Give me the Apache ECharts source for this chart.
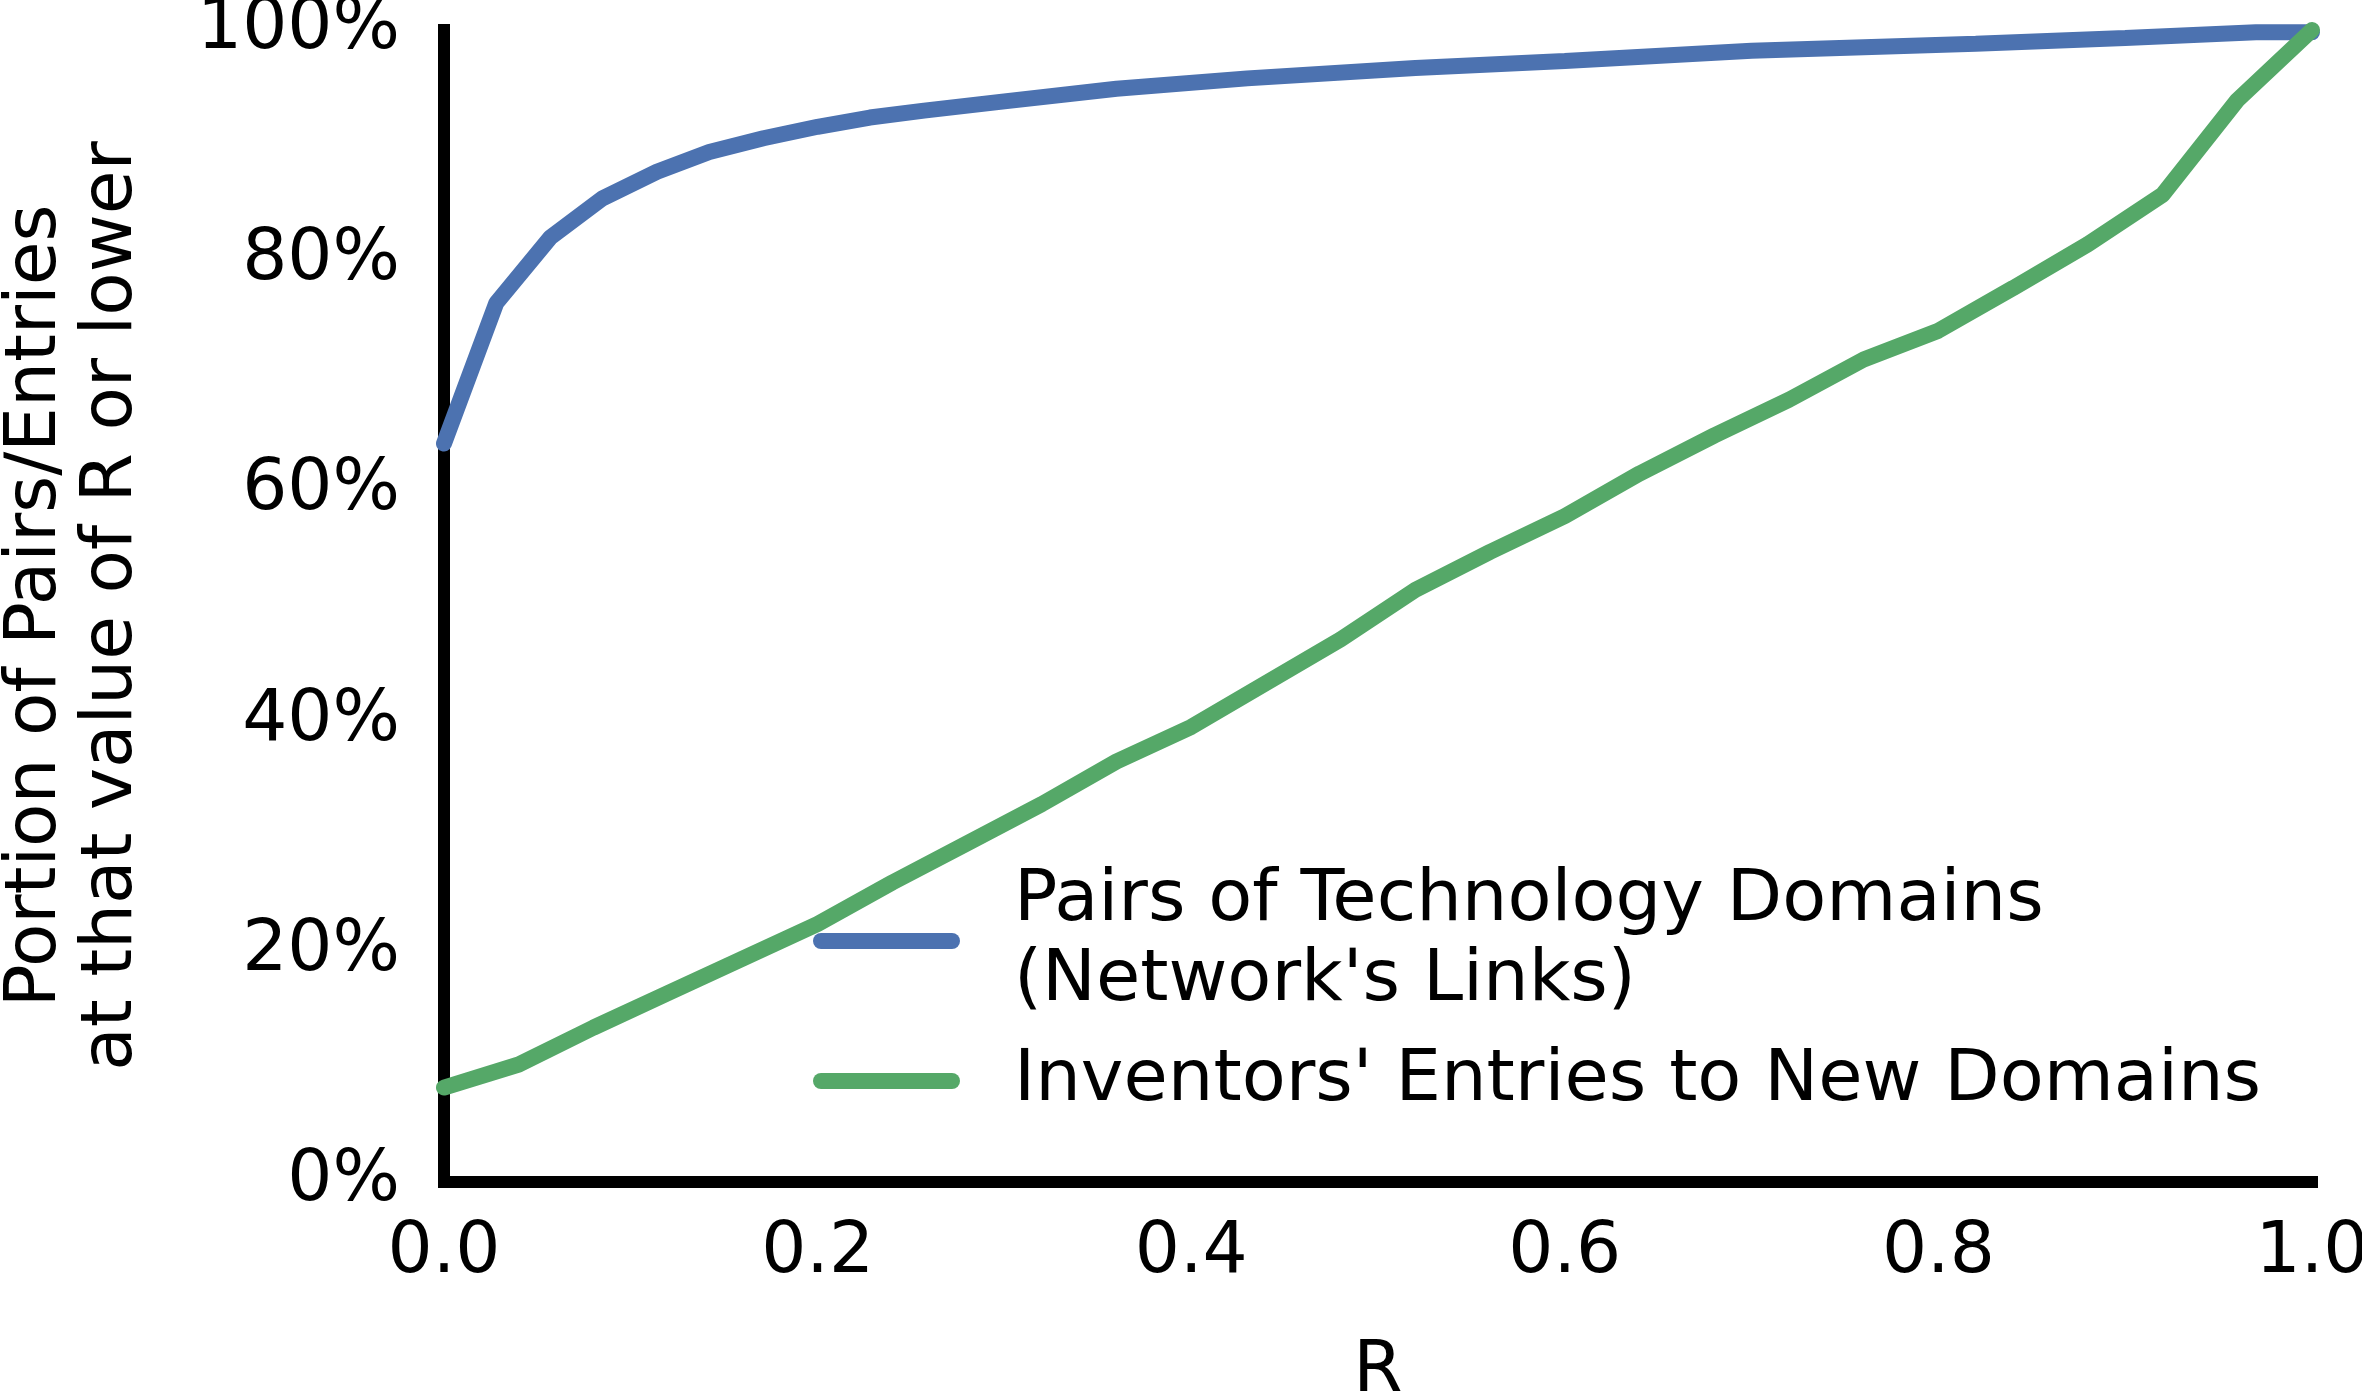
<!DOCTYPE html>
<html>
<head>
<meta charset="utf-8">
<script src="https://cdn.jsdelivr.net/npm/echarts@6/dist/echarts.min.js"></script>
<style>
  html, body { margin: 0; padding: 0; background: #fff; }
  #chart { width: 2362px; height: 1399px; }
</style>
</head>
<body>
<div id="chart"></div>
<script>
// cumulative share of pairs (network links) at R or lower
const rPairs = [0, 0.028, 0.057, 0.085, 0.114, 0.142, 0.171, 0.2, 0.228, 0.257, 0.3, 0.36, 0.43, 0.52, 0.6, 0.7, 0.82, 0.9, 0.97, 1.0]
const pctPairs = [64.1, 76.3, 82.0, 85.4, 87.7, 89.4, 90.6, 91.6, 92.4, 93.0, 93.8, 94.9, 95.8, 96.7, 97.3, 98.2, 98.8, 99.3, 99.8, 99.8]

// cumulative share of inventors' entries at R or lower
const rEntries = [0, 0.04, 0.08, 0.12, 0.16, 0.2, 0.24, 0.28, 0.32, 0.36, 0.4, 0.44, 0.48, 0.52, 0.56, 0.6, 0.64, 0.68, 0.72, 0.76, 0.8, 0.84, 0.88, 0.92, 0.96, 1.0]
const pctEntries = [8.2, 10.2, 13.4, 16.4, 19.4, 22.4, 26.0, 29.4, 32.8, 36.5, 39.5, 43.3, 47.1, 51.4, 54.7, 57.8, 61.5, 64.8, 67.9, 71.4, 73.9, 77.6, 81.4, 85.7, 93.9, 100]

const seriesNames = ["Pairs of Technology Domains\n(Network's Links)", "Inventors' Entries to New Domains"]
const xTicks = [0, 0.2, 0.4, 0.6, 0.8, 1.0]
const yTicks = [0, 20, 40, 60, 80, 100]

const font = 'DejaVu Sans'
const fontSize = 71

const chart = echarts.init(document.getElementById('chart'))

const zip = (xs, ys) => xs.map((x, i) => [x, ys[i]])

chart.setOption({
  animation: false,
  textStyle: { fontFamily: font },
  grid: {
    left: 444,
    right: 50,
    top: 30,
    bottom: 217,
    containLabel: false,
    outerBoundsMode: 'none'
  },
  legend: {
    orient: 'vertical',
    left: 813,
    top: 861,
    padding: 0,
    itemGap: 20,
    itemWidth: 147,
    itemHeight: 16,
    icon: 'path://M8,0 L139,0 A8,8 0 0 1 139,16 L8,16 A8,8 0 0 1 8,0 Z',
    textStyle: {
      fontFamily: font,
      fontSize: 72,
      lineHeight: 80,
      color: '#000',
      padding: [0, 0, 0, 49]
    },
    data: seriesNames
  },
  xAxis: {
    type: 'value',
    min: xTicks[0],
    max: xTicks[xTicks.length - 1],
    interval: 0.2,
    name: 'R',
    nameLocation: 'middle',
    nameGap: 155,
    nameTextStyle: { fontFamily: font, fontSize: fontSize, color: '#000' },
    axisLine: { show: true, lineStyle: { color: '#000', width: 12, cap: 'square' } },
    axisTick: { show: false },
    splitLine: { show: false },
    axisLabel: {
      margin: 36,
      fontFamily: font,
      fontSize: fontSize,
      color: '#000',
      formatter: v => v.toFixed(1)
    }
  },
  yAxis: {
    type: 'value',
    min: yTicks[0],
    max: yTicks[yTicks.length - 1],
    interval: 20,
    name: 'Portion of Pairs/Entries\nat that value of R or lower',
    nameLocation: 'middle',
    nameRotate: 90,
    nameGap: 293,
    nameTextStyle: { fontFamily: font, fontSize: fontSize, lineHeight: 76, color: '#000' },
    axisLine: { show: true, lineStyle: { color: '#000', width: 12, cap: 'square' } },
    axisTick: { show: false },
    splitLine: { show: false },
    axisLabel: {
      margin: 44,
      fontFamily: font,
      fontSize: fontSize,
      color: '#000',
      formatter: v => v + '%'
    }
  },
  series: [
    {
      name: seriesNames[0],
      type: 'line',
      data: zip(rPairs, pctPairs),
      showSymbol: false,
      clip: false,
      itemStyle: { color: '#4C72B0' },
      lineStyle: { color: '#4C72B0', width: 16, cap: 'round' }
    },
    {
      name: seriesNames[1],
      type: 'line',
      data: zip(rEntries, pctEntries),
      showSymbol: false,
      clip: false,
      itemStyle: { color: '#55A868' },
      lineStyle: { color: '#55A868', width: 16, cap: 'round' }
    }
  ]
})
</script>
</body>
</html>
